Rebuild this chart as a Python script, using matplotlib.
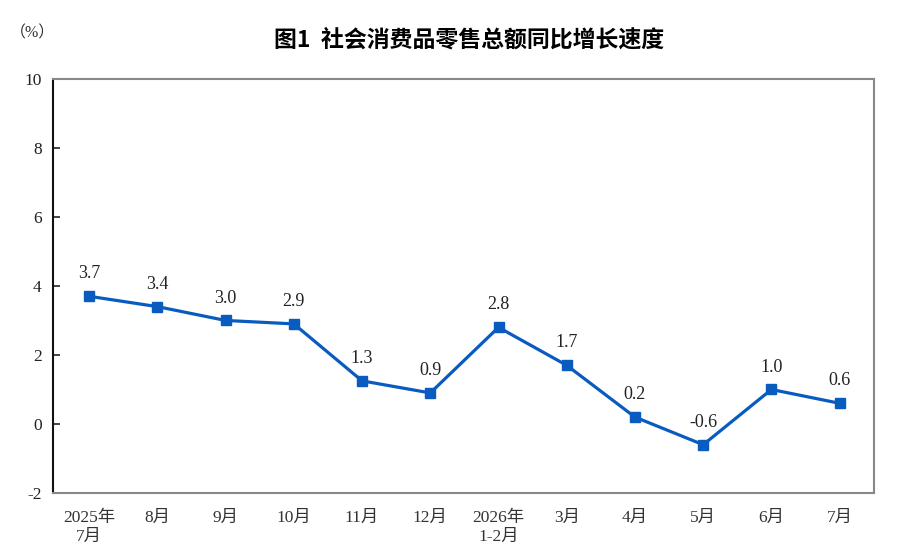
import matplotlib
matplotlib.use("Agg")
import matplotlib.pyplot as plt

categories = ["2025年\n7月", "8月", "9月", "10月", "11月", "12月", "2026年\n1-2月",
              "3月", "4月", "5月", "6月", "7月"]
values = [3.7, 3.4, 3.0, 2.9, 1.25, 0.9, 2.8, 1.7, 0.2, -0.6, 1.0, 0.6]
labels = ["3.7", "3.4", "3.0", "2.9", "1.3", "0.9", "2.8", "1.7", "0.2", "-0.6", "1.0", "0.6"]
yticks = [-2, 0, 2, 4, 6, 8, 10]

fam = ["Liberation Serif", "Noto Sans CJK SC"]
plt.rcParams["font.family"] = fam

fig = plt.figure(figsize=(8.98, 5.59), dpi=100)
ax = fig.add_axes([0.059, 0.118, 0.914, 0.741])

x = list(range(len(values)))
color = "#0a5bbf"
ax.plot(x, values, color=color, lw=2.3, marker="s", markersize=6.5, zorder=3)
for xi, v, lab in zip(x, values, labels):
    ax.annotate(lab, (xi, v), xytext=(0, 10), textcoords="offset points",
                ha="center", va="bottom", fontsize=13, color="#222222")

ax.set_xlim(-0.53, 11.5)
ax.set_ylim(-2, 10)
ax.set_yticks(yticks)
ax.set_yticklabels([str(t) for t in yticks], fontsize=12.5)
ax.set_xticks(x)
ax.set_xticklabels(categories, fontsize=12.5, linespacing=1.3)
ax.tick_params(axis="y", direction="in", length=5, width=1.2, pad=8, colors="#222222")
ax.tick_params(axis="x", length=0, pad=12, colors="#333333")

ax.spines["left"].set_color("#111111")
ax.spines["left"].set_linewidth(1.5)
for s in ["top", "right", "bottom"]:
    ax.spines[s].set_color("#888888")
    ax.spines[s].set_linewidth(1.5)

fig.text(0.522, 0.928, "图1  社会消费品零售总额同比增长速度", ha="center", va="center",
         fontsize=16.5, fontweight="bold", family=["Noto Sans CJK SC", "DejaVu Sans"])
fig.text(0.036, 0.941, "（%）", ha="center", va="center", fontsize=11.5, color="#333333")

fig.savefig("out.png", dpi=100)
